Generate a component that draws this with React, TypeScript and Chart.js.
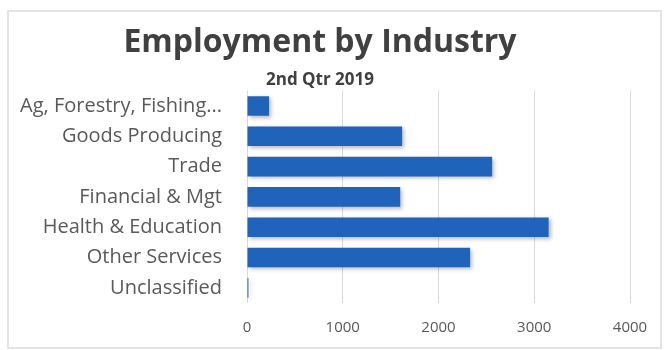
import React, { useEffect, useRef } from "react";
import { Chart, registerables } from "chart.js";

Chart.register(...registerables);

const categories = [
  "Ag, Forestry, Fishing...",
  "Goods Producing",
  "Trade",
  "Financial & Mgt",
  "Health & Education",
  "Other Services",
  "Unclassified",
];
const employment = [230, 1620, 2560, 1600, 3150, 2330, 15];
const xTicks = [0, 1000, 2000, 3000, 4000];
const titleText = "Employment by Industry";
const subtitleText = "2nd Qtr 2019";

const FONT = "'Open Sans', sans-serif";

export default function App() {
  const ref = useRef<HTMLCanvasElement | null>(null);
  useEffect(() => {
    if (!ref.current) return;
    const shadow = {
      id: "barShadow",
      beforeDatasetsDraw(chart: any) {
        const c = chart.ctx;
        c.save();
        c.shadowColor = "rgba(0,0,0,0.28)";
        c.shadowBlur = 4;
        c.shadowOffsetX = 2;
        c.shadowOffsetY = 2;
      },
      afterDatasetsDraw(chart: any) {
        chart.ctx.restore();
      },
    };
    const chart = new Chart(ref.current, {
      type: "bar",
      data: {
        labels: categories,
        datasets: [
          {
            data: employment,
            backgroundColor: "#1F63BA",
            borderWidth: 0,
            categoryPercentage: 0.72,
            barPercentage: 0.9,
          },
        ],
      },
      plugins: [shadow],
      options: {
        indexAxis: "y",
        animation: false,
        responsive: false,
        maintainAspectRatio: false,
        layout: { padding: { left: 10, right: 35, top: 0, bottom: 0 } },
        plugins: {
          legend: { display: false },
          tooltip: { enabled: false },
          title: {
            display: true,
            text: titleText,
            color: "#404040",
            font: { family: FONT, size: 32, weight: "bold" },
            padding: { top: 24, bottom: 0 },
          },
          subtitle: {
            display: true,
            text: subtitleText,
            color: "#404040",
            font: { family: FONT, size: 17, weight: "bold" },
            padding: { top: 8, bottom: 0 },
          },
        },
        scales: {
          x: {
            min: 0,
            max: 4000,
            afterBuildTicks: (s: any) => {
              s.ticks = xTicks.map((v) => ({ value: v }));
            },
            afterFit: (s: any) => {
              s.height = 47;
            },
            grid: { color: "#d9d9d9", drawTicks: false },
            border: { display: false },
            ticks: {
              color: "#595959",
              font: { family: FONT, size: 15 },
              padding: 16,
              callback: (v: any) => String(v),
            },
          },
          y: {
            grid: { display: false, drawTicks: false },
            border: { display: false },
            afterFit: (s: any) => {
              s.width = 237;
            },
            ticks: {
              color: "#595959",
              font: { family: FONT, size: 20 },
              padding: 25,
            },
          },
        },
      },
    } as any);
    return () => chart.destroy();
  }, []);
  return (
    <div style={{ position: "fixed", left: 0, top: 0, width: 665, height: 350, background: "#fff" }}>
      <div
        style={{
          position: "absolute",
          left: 7,
          top: 10,
          width: 655,
          height: 339,
          border: "2px solid #e4e4e4",
          boxSizing: "border-box",
        }}
      />
      <canvas ref={ref} width={665} height={350} style={{ position: "absolute", left: 0, top: 0 }} />
    </div>
  );
}
